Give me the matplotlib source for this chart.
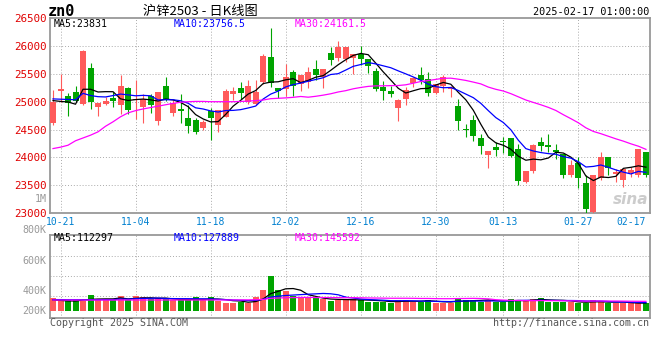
import numpy as np
import pandas as pd
import matplotlib
matplotlib.use('Agg')
import matplotlib.pyplot as plt

# 沪锌2503 日K, 2024-10-18 .. 2025-02-17
opens = [24620, 25185, 25095, 25180, 24965, 25610, 24905, 24950, 25065, 24935,
         25245, 25025, 24905, 25100, 24655, 25290, 24795, 24865, 24715, 24665,
         24520, 24830, 24575, 24725, 25130, 25250, 24995, 24965, 25350, 25795,
         25245, 25230, 25530, 25320, 25350, 25590, 25440, 25875, 25785, 25770,
         25785, 25855, 25770, 25545, 25260, 25200, 24885, 25055, 25330, 25470,
         25410, 25155, 25290, 25220, 24915, 24490, 24665, 24350, 24040, 24190,
         24290, 24350, 24150, 23555, 23755, 24280, 24230, 24130, 24070, 23695,
         23905, 23545, 23030, 23625, 24000, 23700, 23595, 23725, 23685, 24090]
highs = [25210, 25500, 25155, 25280, 25920, 25690, 24975, 25080, 25170, 25470,
         25260, 25380, 25145, 25145, 25170, 25440, 25025, 25145, 24935, 24700,
         24680, 24895, 24860, 25220, 25260, 25350, 25380, 25380, 25855, 26320,
         25245, 25680, 25560, 25470, 25620, 25750, 25590, 25985, 26095, 25975,
         25855, 26005, 25770, 25600, 25370, 25290, 25055, 25260, 25440, 25630,
         25530, 25320, 25470, 25290, 25040, 24595, 24755, 24430, 24115, 24280,
         24370, 24350, 24250, 23755, 24250, 24370, 24415, 24240, 24070, 23950,
         24010, 23685, 23690, 24100, 24010, 23785, 23785, 23830, 24145, 24090]
lows = [24590, 24990, 24745, 24990, 24945, 24875, 24735, 24935, 24905, 24785,
        24785, 24695, 24620, 24795, 24590, 25005, 24735, 24620, 24440, 24415,
        24500, 24320, 24455, 24725, 25025, 25055, 24965, 24935, 25320, 25260,
        25070, 25110, 25110, 25200, 25245, 25380, 25245, 25650, 25735, 25705,
        25500, 25665, 25510, 25190, 25025, 25080, 24655, 24935, 25260, 25320,
        25110, 25145, 25170, 25080, 24500, 24370, 24295, 24060, 23805, 24020,
        24080, 24010, 23505, 23535, 23715, 24120, 24100, 23980, 23635, 23655,
        23455, 22985, 22995, 23595, 23685, 23565, 23475, 23655, 23655, 23655]
closes = [24990, 25220, 24980, 25010, 25915, 24990, 24975, 25010, 25005, 25275,
          24845, 25055, 25055, 24935, 25170, 25025, 24975, 24830, 24560, 24455,
          24635, 24710, 24855, 25200, 25200, 25155, 25275, 25170, 25825, 25330,
          25185, 25450, 25275, 25470, 25530, 25470, 25590, 25750, 25975, 25975,
          25855, 25770, 25635, 25220, 25190, 25130, 25025, 25215, 25420, 25380,
          25155, 25320, 25450, 25260, 24655, 24485, 24380, 24200, 24115, 24130,
          24270, 24025, 23575, 23755, 24230, 24205, 24190, 24090, 23685, 23860,
          23635, 23070, 23685, 24010, 23805, 23745, 23785, 23775, 24145, 23685]
# 成交量 (千手)
volumes = [191, 155, 165, 165, 150, 243, 181, 176, 165, 227,
           165, 227, 207, 176, 191, 176, 165, 165, 165, 207,
           165, 207, 155, 124, 124, 140, 114, 207, 321, 538,
           321, 310, 227, 191, 191, 191, 176, 155, 165, 176,
           176, 165, 140, 140, 140, 124, 165, 165, 140, 140,
           165, 124, 124, 124, 202, 165, 165, 140, 165, 140,
           140, 181, 165, 150, 181, 202, 140, 140, 140, 140,
           124, 114, 165, 150, 114, 124, 124, 114, 114, 114]

# 均线开头几根 (依赖图外更早的数据, 从图上读)
ma5_head = [25020, 25005, 24995, 24955]
ma10_head = [25050, 25045, 25040, 25035, 25150, 25110, 25090, 25085, 25110]
ma30_head = [24160, 24185, 24220, 24300, 24350, 24400, 24460, 24560, 24640, 24730,
             24800, 24840, 24870, 24895, 24920, 24945, 24970, 24990, 25000, 25005,
             25005, 25000, 25000, 25000, 25000, 25005, 25010, 25020, 25030]
vma5_head = [166, 160, 152, 150]
vma10_head = [172, 172, 170, 170, 170, 170, 170, 172, 172]
vma30_head = [165, 165, 165, 165, 165, 165, 165, 165, 165, 165,
              165, 165, 166, 166, 166, 166, 166, 166, 166, 166,
              166, 166, 166, 166, 166, 167, 168, 170, 175]

legend_price = ['MA5:23831', 'MA10:23756.5', 'MA30:24161.5']
legend_vol = ['MA5:112297', 'MA10:127889', 'MA30:145592']
tick_dates = ['10-21', '11-04', '11-18', '12-02', '12-16', '12-30', '01-13', '01-27', '02-17']
price_ticks = [23000, 23500, 24000, 24500, 25000, 25500, 26000, 26500]

holidays = ['2025-01-01'] + [str(d.date()) for d in pd.date_range('2025-01-28', '2025-02-04')]
dates = pd.bdate_range('2024-10-18', '2025-02-17', freq='C', holidays=holidays)
labels_all = [d.strftime('%m-%d') for d in dates]
tick_pos = [labels_all.index(t) for t in tick_dates]


def with_head(values, n, head):
    s = pd.Series(values, dtype=float).rolling(n).mean().to_numpy()
    s[:len(head)] = head
    return s


RED = '#ff5a5a'
GREEN = '#00a400'
GRID = '#aaaaaa'
MONO = 'DejaVu Sans Mono'

o = np.array(opens, float)
h = np.array(highs, float)
l = np.array(lows, float)
c = np.array(closes, float)
x = np.arange(len(c))
up = c >= o
cols = [RED if u else GREEN for u in up]

W, H = 660, 360
fig = plt.figure(figsize=(6.6, 3.6), dpi=100)
fig.patch.set_facecolor('white')


def box(left, top, right, bottom):
    return [left / W, 1 - bottom / H, (right - left) / W, (bottom - top) / H]


ax = fig.add_axes(box(50, 18, 650, 213.3))
axv = fig.add_axes(box(50, 235, 650, 318))

# price panel
ax.vlines(x, l, h, colors=cols, lw=0.8, zorder=3)
body_lo = np.minimum(o, c)
body_h = np.maximum(np.abs(c - o), 18)
ax.bar(x, body_h, bottom=body_lo, width=0.8, color=cols, lw=0, zorder=4)
ax.plot(x, with_head(closes, 5, ma5_head), color='black', lw=0.9, zorder=5)
ax.plot(x, with_head(closes, 10, ma10_head), color='#0000ff', lw=0.9, zorder=5)
ax.plot(x, with_head(closes, 30, ma30_head), color='#ff00ff', lw=0.9, zorder=5)

xlim = (-0.4, len(c) - 0.46)
ax.set_xlim(xlim)
ax.set_ylim(23000, 26500)
ax.set_yticks(price_ticks)
ax.set_yticklabels([str(t) for t in price_ticks], color='#e00000',
                   fontsize=7.8, family=MONO)
ax.set_xticks(tick_pos)
ax.set_xticklabels(tick_dates, color='#0080d0', fontsize=7, family=MONO)
ax.get_xticklabels()[-1].set_horizontalalignment('right')
ax.tick_params(length=0, pad=2.5)
for t in price_ticks[1:-1]:
    ax.axhline(t, color=GRID, lw=0.7, ls=(0, (1, 2)), zorder=1)
for p in tick_pos[:-1]:
    ax.axvline(p, color=GRID, lw=0.7, ls=(0, (1, 2)), zorder=1)
    axv.axvline(p, color=GRID, lw=0.7, ls=(0, (1, 2)), zorder=1)

# volume panel
v = np.array(volumes, float)
axv.bar(x, v, width=0.8, color=cols, lw=0, zorder=3)
axv.plot(x, with_head(volumes, 5, vma5_head), color='black', lw=0.9, zorder=4)
axv.plot(x, with_head(volumes, 10, vma10_head), color='#0000ff', lw=0.9, zorder=4)
axv.plot(x, with_head(volumes, 30, vma30_head), color='#ff00ff', lw=0.9, zorder=4)


def vy(px):
    # 量图纵轴: 像素 -> 千手
    return (310.7 - px) * 15.5


axv.set_xlim(xlim)
axv.set_ylim(vy(318), vy(235))
axv.set_xticks([])
axv.set_yticks([])
for px in (256, 275.5, 295.5):
    axv.axhline(vy(px), color=GRID, lw=0.7, ls=(0, (1, 2)), zorder=1)

for a in (ax, axv):
    for s in a.spines.values():
        s.set_color('#999999')
        s.set_linewidth(1.3)

# texts
fig.text(48 / W, 1 - 12 / H, 'zn0', fontsize=11, weight='bold', family=MONO,
         va='center', ha='left')
fig.text(200 / W, 1 - 12 / H, '沪锌2503 - 日K线图', fontsize=9.5,
         family=['Noto Sans CJK SC', 'DejaVu Sans'], va='center', ha='center')
fig.text(649 / W, 1 - 12 / H, '2025-02-17 01:00:00', fontsize=7.3, family=MONO,
         va='center', ha='right')

ma_cols = ['black', '#0000ff', '#ff00ff']
for txt, xp, col in zip(legend_price, (54, 174, 295), ma_cols):
    fig.text(xp / W, 1 - 24 / H, txt, fontsize=7.1, family=MONO, color=col,
             va='center', ha='left')
for txt, xp, col in zip(legend_vol, (54, 174, 295), ma_cols):
    fig.text(xp / W, 1 - 238 / H, txt, fontsize=7.1, family=MONO, color=col,
             va='center', ha='left')

for txt, py in zip(['800K', '600K', '400K', '200K'], (230.3, 261, 291, 311.3)):
    fig.text(46.5 / W, 1 - py / H, txt, fontsize=7.2, family=MONO,
             color='#999999', va='center', ha='right')
fig.text(46.5 / W, 1 - 199 / H, '1M', fontsize=7.2, family=MONO,
         color='#999999', va='center', ha='right')

fig.text(50 / W, 1 - 323.5 / H, 'Copyright 2025 SINA.COM', fontsize=7.2,
         family=MONO, color='#555555', va='center', ha='left')
fig.text(649 / W, 1 - 323.5 / H, 'http://finance.sina.com.cn', fontsize=7.2,
         family=MONO, color='#555555', va='center', ha='right')
fig.text(648 / W, 1 - 199 / H, 'sina', fontsize=11, weight='bold', style='italic',
         color='#cccccc', va='center', ha='right', zorder=0)

fig.savefig('out.png', dpi=100)
